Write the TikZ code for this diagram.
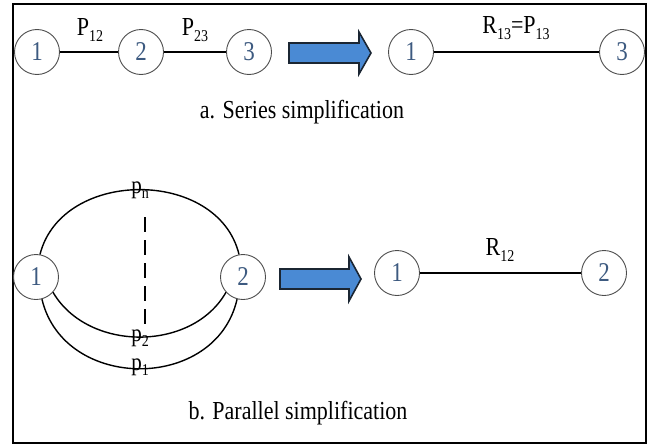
\documentclass[tikz,border=0pt]{standalone}
\usepackage{graphicx}
\usepackage{fontspec}
\setmainfont{Liberation Serif}
\definecolor{numc}{HTML}{3D5A80}
\definecolor{arrowblue}{HTML}{4A8AD4}
\definecolor{arrowedge}{HTML}{1B2633}
\newcommand{\sbs}[1]{\raisebox{-0.22em}{\fontsize{14}{14}\selectfont #1}}
\newcommand{\tl}[1]{\scalebox{1}[1.18]{#1}}
\begin{document}
\begin{tikzpicture}[x=1pt,y=-1pt,
  vert/.style={circle,draw=black!70,line width=0.9pt,minimum size=45pt,inner sep=0pt,
    text=numc,font=\fontsize{23}{23}\selectfont},
  edge/.style={line width=1.4pt,black},
  lbl/.style={font=\fontsize{22}{22}\selectfont,inner sep=1pt},
  onlbl/.style={font=\fontsize{21}{21}\selectfont,fill=white,inner sep=0.5pt},
  caption/.style={font=\fontsize{22}{22}\selectfont},
  bigarrow/.style={draw=arrowedge,fill=arrowblue,line width=1.6pt,line join=miter}]
\useasboundingbox (0,0) rectangle (655,447);
\draw[line width=2.4pt] (13,4) rectangle (646,443);

% series
\node[vert] (s1) at (37,52) {\tl{1}};
\node[vert] (s2) at (141,52) {\tl{2}};
\node[vert] (s3) at (249,52) {\tl{3}};
\draw[edge] (s1) -- (s2);
\draw[edge] (s2) -- (s3);
\node[lbl] (p12) at (90,30) {\tl{P\sbs{12}}};
\node[lbl] (p23) at (195,30) {\tl{P\sbs{23}}};

\draw[bigarrow] (289,43) -- (359,43) -- (359,32) -- (371,53) -- (359,74) -- (359,63) -- (289,63) -- cycle;

\node[vert] (r1) at (411,52) {\tl{1}};
\node[vert] (r3) at (622,52) {\tl{3}};
\draw[edge] (r1) -- (r3);
\node[lbl] (r13) at (516,28) {\tl{R\sbs{13}=P\sbs{13}}};

\node[caption] (capa) at (302,112) {\tl{a. Series simplification}};

% parallel
\node[vert] (q1) at (36,277) {\tl{1}};
\node[vert] (q2) at (243,277) {\tl{2}};
\node[onlbl] (pn) at (140,190) {\tl{p\sbs{n}}};
\node[onlbl] (pp2) at (140,338) {\tl{p\sbs{2}}};
\node[onlbl] (pp1) at (140,367) {\tl{p\sbs{1}}};
\draw[edge] (q1.80) .. controls (62,168) and (218,168) .. (q2.100);
\draw[edge] (q1.-42) .. controls (88,352) and (192,352) .. (q2.222);
\draw[edge] (q1.-75) .. controls (64,392) and (216,392) .. (q2.-105);
\coordinate (dtop) at (145,217);
\coordinate (dbot) at (145,324);
\draw[edge,dash pattern=on 15pt off 8pt] (dtop) -- (dbot);

\draw[bigarrow] (280,269) -- (349,269) -- (349,257) -- (361,279) -- (349,301) -- (349,289) -- (280,289) -- cycle;

\node[vert] (t1) at (397,273) {\tl{1}};
\node[vert] (t2) at (604,273) {\tl{2}};
\draw[edge] (t1) -- (t2);
\node[lbl] (r12) at (500,250) {\tl{R\sbs{12}}};

\node[caption] (capb) at (298,413) {\tl{b. Parallel simplification}};
\end{tikzpicture}
\end{document}
